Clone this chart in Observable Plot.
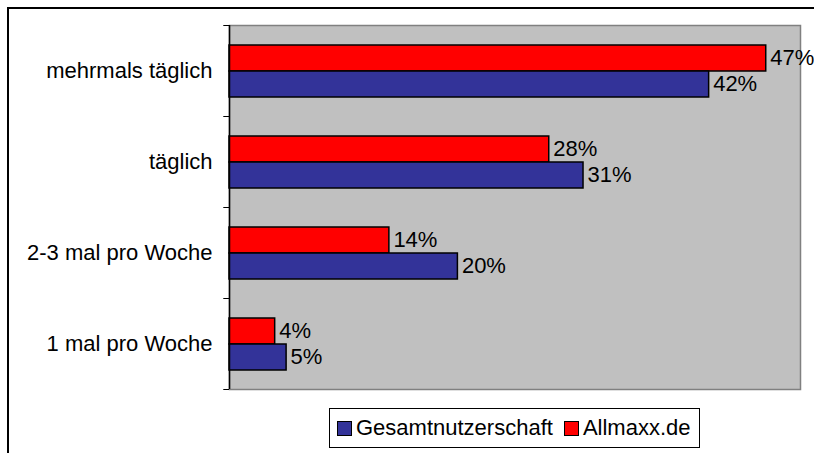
<!DOCTYPE html>
<html>
<head>
<meta charset="utf-8">
<script src="https://cdn.jsdelivr.net/npm/d3@7"></script>
<script src="https://cdn.jsdelivr.net/npm/@observablehq/plot@0.6"></script>
<style>
  html, body { margin: 0; padding: 0; background: #fff; }
  #wrap { position: relative; width: 814px; height: 453px; overflow: hidden; font-family: Arial, "Liberation Sans", sans-serif; }
  #frame { position: absolute; left: 7px; top: 7px; width: 820px; height: 460px; border-left: 2px solid #000; border-top: 2px solid #000; pointer-events: none; }
  #chart svg { display: block; }
  #legend { position: absolute; left: 329px; top: 408px; width: 369px; height: 38px; border: 1px solid #000; background: #fff;
            display: flex; align-items: center; font-size: 22px; color: #000; box-sizing: content-box; }
  .item { display: flex; align-items: center; }
  .sw { width: 13px; height: 13px; border: 1px solid #000; margin-right: 4px; }
</style>
</head>
<body>
<div id="wrap">
  <div id="frame"></div>
  <div id="chart"></div>
  <div id="legend"></div>
</div>
<script>
const categories = ["mehrmals täglich", "täglich", "2-3 mal pro Woche", "1 mal pro Woche"];
const seriesNames = ["Gesamtnutzerschaft", "Allmaxx.de"];
const gesamtValues = [42, 31, 20, 5];
const allmaxxValues = [47, 28, 14, 4];
const seriesColors = ["#333399", "#ff0000"];

const blueRows = categories.map((c, i) => ({category: c, series: seriesNames[0], value: gesamtValues[i]}));
const redRows = categories.map((c, i) => ({category: c, series: seriesNames[1], value: allmaxxValues[i]}));

const band = (400 - 25 - 11) / categories.length;

const chart = Plot.plot({
  width: 814,
  height: 400,
  marginLeft: 229,
  marginRight: 14,
  marginTop: 25,
  marginBottom: 11,
  style: {fontFamily: "Arial, 'Liberation Sans', sans-serif", fontSize: "22px", color: "#000", background: "transparent", overflow: "visible"},
  x: {domain: [0, 50], axis: null},
  y: {domain: categories, padding: 0, tickSize: 0, tickPadding: 17, label: null},
  marks: [
    Plot.frame({fill: "#c0c0c0", stroke: "#808080", strokeWidth: 1.5}),
    Plot.ruleY(categories, {y: d => d, x1: -0.5, x2: 0, dy: -band / 2, stroke: "#000"}),
    Plot.ruleY([categories[categories.length - 1]], {y: d => d, x1: -0.5, x2: 0, dy: band / 2, stroke: "#000"}),
    Plot.barX(redRows, {x: "value", y: "category", fill: seriesColors[1], stroke: "#000", strokeWidth: 1.5, insetTop: 20, insetBottom: 45}),
    Plot.barX(blueRows, {x: "value", y: "category", fill: seriesColors[0], stroke: "#000", strokeWidth: 1.5, insetTop: 46, insetBottom: 19}),
    Plot.ruleX([0], {stroke: "#000", strokeWidth: 1.5}),
    Plot.text(redRows, {x: "value", y: "category", text: d => d.value + "%", dx: 4, dy: -13, textAnchor: "start", fontSize: 22, fill: "#000"}),
    Plot.text(blueRows, {x: "value", y: "category", text: d => d.value + "%", dx: 4, dy: 13, textAnchor: "start", fontSize: 22, fill: "#000"})
  ]
});
document.getElementById("chart").appendChild(chart);

const legend = document.getElementById("legend");
seriesNames.forEach((name, i) => {
  const item = document.createElement("div");
  item.className = "item";
  item.style.marginLeft = i === 0 ? "7px" : "11px";
  const sw = document.createElement("div");
  sw.className = "sw";
  sw.style.background = seriesColors[i];
  const label = document.createElement("span");
  label.textContent = name;
  item.appendChild(sw);
  item.appendChild(label);
  legend.appendChild(item);
});
</script>
</body>
</html>
